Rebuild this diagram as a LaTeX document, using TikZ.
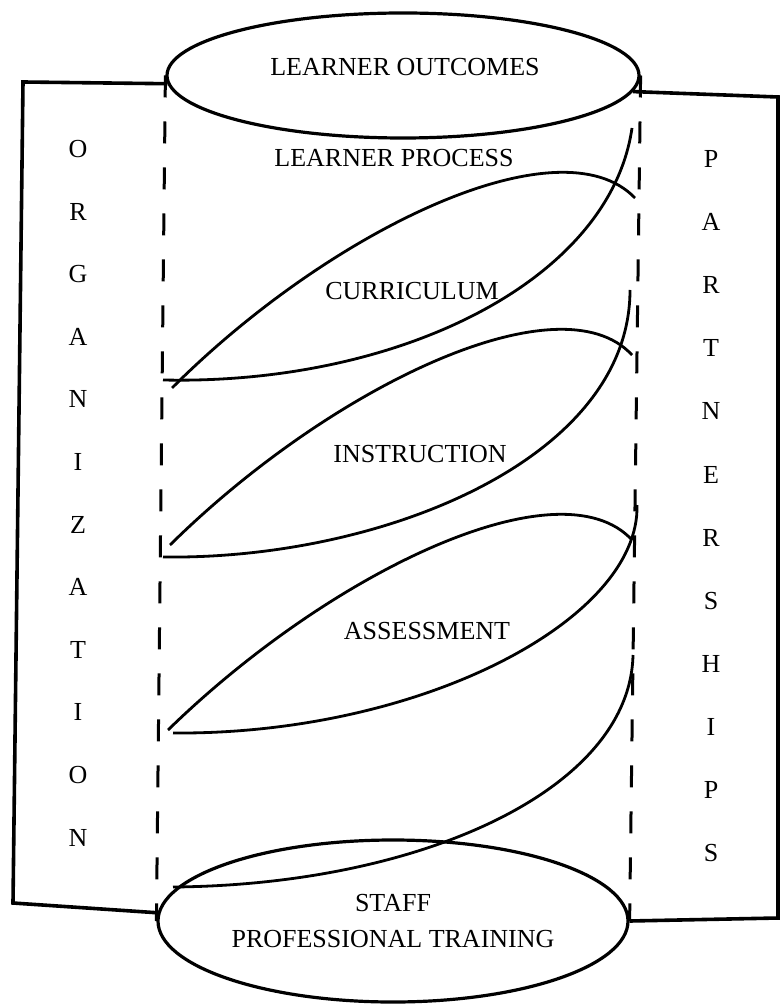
\documentclass[tikz,border=0pt]{standalone}
\usepackage{fontspec}
\setmainfont{Liberation Serif}
\usetikzlibrary{shapes.geometric, positioning}

\begin{document}
\begin{tikzpicture}[x=0.5pt, y=-0.5pt, font=\fontsize{13}{18}\selectfont,
	oval/.style={ellipse, draw, line width=1.6pt, inner sep=0pt},
	frame/.style={line width=1.8pt, line join=miter},
	side/.style={line width=1.5pt, dash pattern=on 11pt off 12pt},
	leaf/.style={line width=1.4pt},
	lbl/.style={inner sep=1pt},
	letter/.style={inner sep=0pt}]
	\useasboundingbox (0,0) rectangle (780,1004);
	% top and bottom of the cylinder
	\node[oval, minimum width=236pt, minimum height=62.5pt] (outcomes) at (403,75.5) {};
	\node[lbl] (outcomestxt) at (405,67) {LEARNER OUTCOMES};
	\node[oval, minimum width=235pt, minimum height=81pt, align=center] (training) at (393,921)
		{STAFF\\PROFESSIONAL TRAINING};
	% dashed sides
	\draw[side] (outcomes.west) -- (training.west);
	\draw[side] (outcomes.east) -- (training.east);
	% organization / partnerships frames
	\coordinate (otl) at (23,82);
	\coordinate (obl) at (13,903);
	\coordinate (ptr) at (778,97);
	\coordinate (pbr) at (778,918);
	\draw[frame] (outcomes.182) -- (otl) -- (obl) -- (training.178);
	\draw[frame] (outcomes.-4) -- (ptr) -- (pbr) -- (training.east);
	\foreach \ch [count=\i] in {O,R,G,A,N,I,Z,A,T,I,O,N}
		\node[letter] (org\i) at (78,{149+62.6*(\i-1)}) {\ch};
	\foreach \ch [count=\i] in {P,A,R,T,N,E,R,S,H,I,P,S}
		\node[letter] (part\i) at (711,{159+63.1*(\i-1)}) {\ch};
	% learner process
	\node[lbl] (process) at (394,158) {LEARNER PROCESS};
	% curriculum
	\draw[leaf] (172,388) .. controls (330,230) and (560,120) .. (635,198);
	\draw[leaf] (163,380) .. controls (400,385) and (610,280) .. (632,128);
	\node[lbl] (curriculum) at (412,291) {CURRICULUM};
	% instruction
	\draw[leaf] (170,545) .. controls (330,387) and (560,277) .. (632,355);
	\draw[leaf] (163,557) .. controls (380,560) and (630,460) .. (630,290);
	\node[lbl] (instruction) at (420,454) {INSTRUCTION};
	% assessment
	\draw[leaf] (168,730) .. controls (330,572) and (560,462) .. (632,540);
	\draw[leaf] (173,733) .. controls (420,735) and (640,620) .. (637,505);
	\node[lbl] (assessment) at (427,631) {ASSESSMENT};
	% staff training
	\draw[leaf] (173,887) .. controls (420,885) and (630,790) .. (633,655);
\end{tikzpicture}
\end{document}
